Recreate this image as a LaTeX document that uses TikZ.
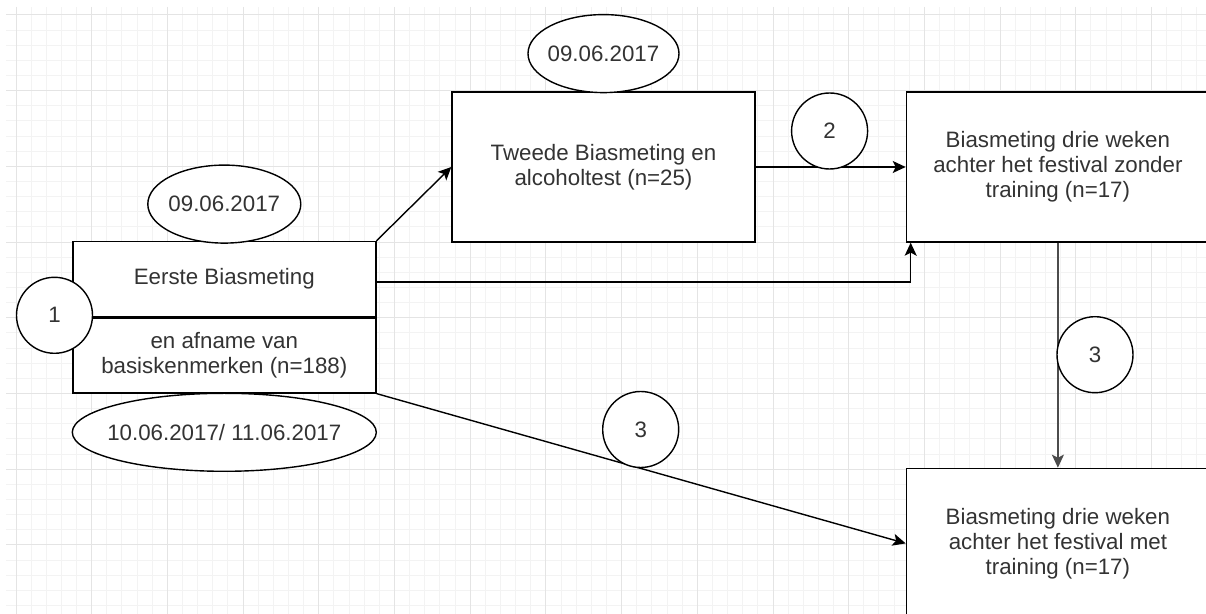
\documentclass[tikz,border=0pt]{standalone}
\usepackage{fontspec}
\setmainfont{Liberation Sans}
\usepackage{xcolor}
\usepackage{tikz}
\usetikzlibrary{shapes}
\usetikzlibrary{positioning, arrows.meta}

\definecolor{txt}{HTML}{333333}
\definecolor{minorgrid}{HTML}{F3F3F3}
\definecolor{majorgrid}{HTML}{E4E4E4}

\begin{document}
\begin{tikzpicture}[x=0.5pt, y=-0.5pt,
		every node/.style={font=\fontsize{11.15}{12.5}\selectfont, text=txt},
		box/.style={draw, fill=white, line width=0.7pt, minimum width=151.5pt, minimum height=75pt, align=center, inner sep=0pt},
		halfbox/.style={box, minimum height=37.5pt},
		date/.style={draw, ellipse, fill=white, line width=0.7pt, minimum height=39pt, inner xsep=-8pt, inner ysep=0pt},
		num/.style={draw, circle, fill=white, line width=0.7pt, minimum size=38pt, inner sep=0pt},
		link/.style={line width=0.7pt, -{Stealth[length=6.5pt, width=6pt, inset=1.5pt]}}]
			\useasboundingbox (0,0) rectangle (1206,614);
			\foreach \i in {0,...,78} \draw[minorgrid, line width=0.5pt] ({16+15.14*\i},7) -- ({16+15.14*\i},614);
			\foreach \j in {0,...,39} \draw[minorgrid, line width=0.5pt] (6,{15+15.14*\j}) -- (1206,{15+15.14*\j});
			\foreach \i in {0,...,15} \draw[majorgrid, line width=0.5pt] ({16+75.7*\i},7) -- ({16+75.7*\i},614);
			\foreach \j in {0,...,7} \draw[majorgrid, line width=0.5pt] (6,{15+75.7*\j}) -- (1206,{15+75.7*\j});
			\node[halfbox] (e1) at (224.3,279) {Eerste Biasmeting};
			\node[halfbox, below = 0pt of e1] (e1b) {en afname van\\basiskenmerken (n=188)};
			\node[box] (t2) at (603.5,167) {Tweede Biasmeting en\\alcoholtest (n=25)};
			\node[box, right = 75pt of t2] (z1) {Biasmeting drie weken\\achter het festival zonder\\training (n=17)};
			\node[box, below = 112.5pt of z1] (m1) {Biasmeting drie weken\\achter het festival met\\training (n=17)};
			\node[date, minimum width=76.5pt, above = -1.5pt of e1] (d1) {09.06.2017};
			\node[date, minimum width=75.5pt, above = -1pt of t2] (d2) {09.06.2017};
			\node[date, minimum width=152pt, below = -0.5pt of e1b] (d3) {10.06.2017/ 11.06.2017};
			\draw[link] (e1.north east) -- (t2.west);
			\draw[link] (t2.east) -- (z1.west);
			\draw[link] ([yshift=-1.5pt]e1.east) -| ([xshift=2.5pt]z1.south west);
			\draw[link, draw=black!70] (z1.south) -- (m1.north);
			\draw[link] (e1b.south east) -- (m1.west);
			\node[num] (c1) at (54.5,315.3) {1};
			\node[num] (c2) at (829.6,131) {2};
			\node[num] (c3) at (1095,354.7) {3};
			\node[num] (c4) at (640.7,429.5) {3};
		\end{tikzpicture}
\end{document}
